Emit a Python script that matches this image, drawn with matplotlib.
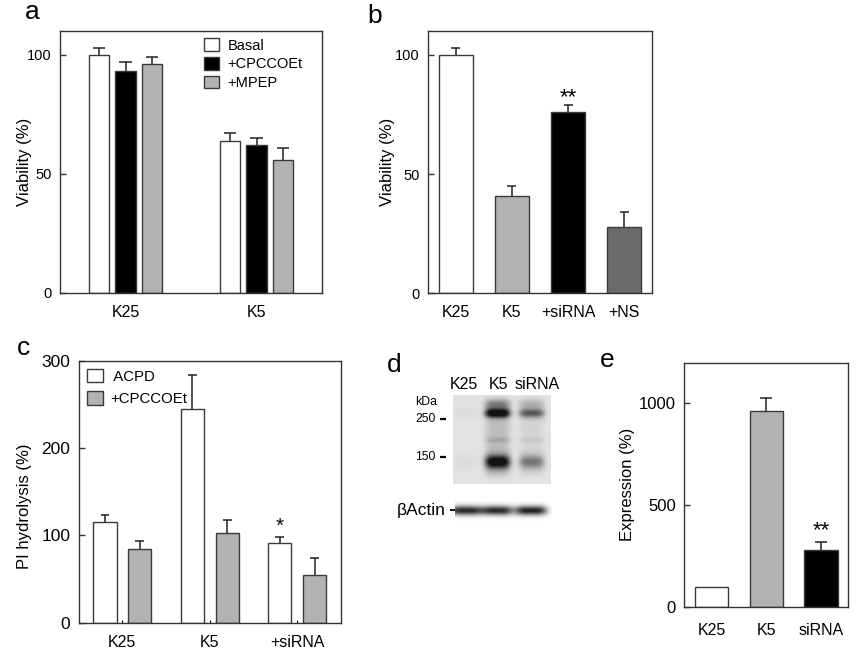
import numpy as np
import matplotlib
matplotlib.use("Agg")
import matplotlib.pyplot as plt

plt.rcParams['font.family'] = ['Liberation Sans', 'DejaVu Sans']

# ---------------- data ----------------
# panel a
a_groups = ["K25", "K5"]
a_series = ["Basal", "+CPCCOEt", "+MPEP"]
a_basal = [100, 64]
a_basal_err = [3, 3]
a_cpccoet = [93, 62]
a_cpccoet_err = [4, 3]
a_mpep = [96, 56]
a_mpep_err = [3, 5]

# panel b
b_cats = ["K25", "K5", "+siRNA", "+NS"]
b_vals = [100, 41, 76, 28]
b_err = [3, 4, 3, 6]
b_sig = ["", "", "**", ""]

# panel c
c_groups = ["K25", "K5", "+siRNA"]
c_series = ["ACPD", "+CPCCOEt"]
c_acpd = [115, 245, 91]
c_acpd_err = [8, 39, 7]
c_cpc = [84, 103, 55]
c_cpc_err = [9, 15, 19]
c_sig = ["", "", "*"]

# panel d (western blot band intensities, relative darkness)
d_lanes = ["K25", "K5", "siRNA"]
d_band250 = [0.03, 0.92, 0.5]
d_band150 = [0.03, 0.85, 0.38]
d_smear = [0.0, 0.15, 0.06]
d_actin = [0.85, 0.84, 0.88]
d_markers = ["250", "150"]

# panel e
e_cats = ["K25", "K5", "siRNA"]
e_vals = [100, 965, 280]
e_err = [0, 63, 40]
e_sig = ["", "", "**"]

# ---------------- figure ----------------
W, H = 861, 668
fig = plt.figure(figsize=(W / 100, H / 100), dpi=100)

WHITE = "white"
LGRAY = "#b2b2b2"
DGRAY = "#6b6b6b"
BLACK = "black"
EDGE = "#3a3a3a"


def axes_px(l, t, r, b):
    return fig.add_axes([l / W, 1 - b / H, (r - l) / W, (b - t) / H])


def style(ax, ytick_fs, xtick_fs=11.5, xpad=8.5, ypad=6):
    for s in ax.spines.values():
        s.set_linewidth(1.0)
        s.set_color("#333333")
    ax.tick_params(axis="y", direction="in", length=4, width=1.0,
                   labelsize=ytick_fs, pad=ypad, color="#333333")
    ax.tick_params(axis="x", length=0, labelsize=xtick_fs, pad=xpad)


def err_up(ax, xs, vs, es, cw):
    for x, v, e in zip(xs, vs, es):
        if e <= 0:
            continue
        ax.plot([x, x], [v, v + e], color="#222222", lw=1.1, zorder=1,
                solid_capstyle="butt")
        ax.plot([x - cw, x + cw], [v + e, v + e], color="#222222", lw=1.1,
                zorder=1, solid_capstyle="butt")


def sig(ax, xs, vs, es, marks, dy, fs):
    for x, v, e, m in zip(xs, vs, es, marks):
        if m:
            ax.annotate(m, (x, v + e), xytext=(0, dy), textcoords="offset points",
                        ha="center", va="center", fontsize=fs)


# ---------- panel a ----------
axa = axes_px(60, 31, 322, 293)
xa = np.arange(len(a_groups))
off = 0.202
wa = 0.156
vals_a = [a_basal, a_cpccoet, a_mpep]
errs_a = [a_basal_err, a_cpccoet_err, a_mpep_err]
cols_a = [WHITE, BLACK, LGRAY]
handles = []
for i, (v, e, c, lab) in enumerate(zip(vals_a, errs_a, cols_a, a_series)):
    xs = xa + (i - 1) * off
    h = axa.bar(xs, v, width=wa, color=c, edgecolor=EDGE, linewidth=1.0,
                label=lab, zorder=2)
    handles.append(h)
    err_up(axa, xs, v, e, 0.048)
axa.set_xlim(-0.5, 1.5)
axa.set_ylim(0, 110)
axa.set_yticks([0, 50, 100])
axa.set_xticks(xa)
axa.set_xticklabels(a_groups)
style(axa, 10.5)
axa.set_ylabel("Viability (%)", fontsize=12)
axa.yaxis.set_label_coords(-0.107, 0.5)
axa.legend(handles=handles, loc="upper left", bbox_to_anchor=(0.55, 0.972),
           frameon=False, fontsize=10.5, handlelength=1.05, handleheight=0.95,
           handletextpad=0.55, labelspacing=0.3, borderpad=0, borderaxespad=0)

# ---------- panel b ----------
axb = axes_px(427.7, 31, 652.3, 293.3)
xb = np.arange(len(b_cats))
axb.bar(xb, b_vals, width=0.6, color=[WHITE, LGRAY, BLACK, DGRAY],
        edgecolor=EDGE, linewidth=1.0, zorder=2)
err_up(axb, xb, b_vals, b_err, 0.08)
sig(axb, xb, b_vals, b_err, b_sig, 5.5, 16)
axb.set_xlim(-0.5, 3.5)
axb.set_ylim(0, 110)
axb.set_yticks([0, 50, 100])
axb.set_xticks(xb)
axb.set_xticklabels(b_cats)
style(axb, 10.5)
axb.set_ylabel("Viability (%)", fontsize=12)
axb.yaxis.set_label_coords(-0.146, 0.5)

# ---------- panel c ----------
axc = axes_px(78.7, 360.7, 340.7, 622.7)
xc = np.arange(len(c_groups))
offc = 0.2
wc = 0.267
hc = []
for i, (v, e, c, lab) in enumerate(zip([c_acpd, c_cpc], [c_acpd_err, c_cpc_err],
                                       [WHITE, LGRAY], c_series)):
    xs = xc + (i - 0.5) * 2 * offc
    h = axc.bar(xs, v, width=wc, color=c, edgecolor=EDGE, linewidth=1.0,
                label=lab, zorder=2)
    hc.append(h)
    err_up(axc, xs, v, e, 0.05)
    if i == 0:
        sig(axc, xs, v, e, c_sig, 8, 15)
axc.set_xlim(-0.5, 2.5)
axc.set_ylim(0, 300)
axc.set_yticks([0, 100, 200, 300])
axc.set_xticks(xc)
axc.set_xticklabels(c_groups)
style(axc, 12.5)
axc.tick_params(axis="x", direction="in", length=2, width=0.8)
axc.set_ylabel("PI hydrolysis (%)", fontsize=12)
axc.yaxis.set_label_coords(-0.179, 0.443)
axc.legend(handles=hc, labels=[" " + c_series[0], c_series[1]],
           loc="upper left", bbox_to_anchor=(0.033, 0.97),
           frameon=False, fontsize=10.8, handlelength=1.05, handleheight=1.05,
           handletextpad=0.45, labelspacing=0.5, borderpad=0, borderaxespad=0)

# ---------- panel e ----------
axe = axes_px(684.3, 362.7, 848.3, 607.3)
xe = np.arange(len(e_cats))
axe.bar(xe, e_vals, width=0.61, color=[WHITE, LGRAY, BLACK],
        edgecolor=EDGE, linewidth=1.0, zorder=2)
err_up(axe, xe, e_vals, e_err, 0.11)
sig(axe, xe, e_vals, e_err, e_sig, 8, 16)
axe.set_xlim(-0.5, 2.5)
axe.set_ylim(0, 1200)
axe.set_yticks([0, 500, 1000])
axe.set_xticks(xe)
axe.set_xticklabels(e_cats)
style(axe, 12, xpad=11)
axe.set_ylabel("Expression (%)", fontsize=12)
axe.yaxis.set_label_coords(-0.30, 0.504)

# ---------- panel d (blot) ----------
axd = axes_px(370, 340, 600, 540)
axd.set_xlim(370, 600)
axd.set_ylim(540, 340)
axd.axis("off")

lane_x = np.array([466.0, 497.0, 531.0])
bx0, bx1, by0, by1 = 452.7, 550.0, 395.0, 484.0
gx = np.linspace(bx0, bx1, 196)
gy = np.linspace(by0, by1, 178)
X, Y = np.meshgrid(gx, gy)
D = np.full(X.shape, 0.11)
for i, cx in enumerate(lane_x):
    px = np.exp(-((X - cx) / 12.5) ** 4)
    g250 = np.exp(-0.5 * ((Y - 413.0) / 3.2) ** 2)
    g250b = np.exp(-0.5 * ((Y - 404.0) / 3.5) ** 2) * 0.3
    g150 = np.exp(-0.5 * ((Y - 462.0) / 4.8) ** 2)
    g140 = np.exp(-0.5 * ((Y - 440.0) / 2.0) ** 2) * 0.12
    smear = 1 / (1 + np.exp(-(Y - 400) / 2)) * 1 / (1 + np.exp((Y - 476) / 2))
    D += px * (d_band250[i] * (g250 + g250b) + d_band150[i] * (g150 + g140)
               + d_smear[i] * smear)
img = np.clip(1 - D, 0.08, 1)
axd.imshow(img, cmap="gray", vmin=0, vmax=1, extent=[bx0, bx1, by1, by0],
           aspect="auto", interpolation="bilinear", zorder=1)

ax0, ax1, ay0, ay1 = 455.0, 552.0, 499.0, 522.0
agx = np.linspace(ax0, ax1, 200)
agy = np.linspace(ay0, ay1, 46)
AX, AY = np.meshgrid(agx, agy)
DA = np.zeros(AX.shape)
for i, cx in enumerate(lane_x):
    px = np.exp(-((AX - cx) / 16.0) ** 4)
    DA += px * d_actin[i] * np.exp(-0.5 * ((AY - 510.5) / 3.4) ** 2)
DA = np.clip(DA, 0, 0.9)
axd.imshow(1 - DA, cmap="gray", vmin=0, vmax=1, extent=[ax0, ax1, ay1, ay0],
           aspect="auto", interpolation="bilinear", zorder=1)

for lab, cx in zip(d_lanes, [464, 498, 536.7]):
    axd.text(cx, 385, lab, ha="center", va="center", fontsize=11.5)
axd.text(415, 402, "kDa", ha="left", va="center", fontsize=8.8)
for lab, yy in zip(d_markers, [419.3, 456.7]):
    axd.text(415, yy, lab, ha="left", va="center", fontsize=8.8)
    axd.plot([440, 446], [yy, yy], color="black", lw=1.6, solid_capstyle="butt")
axd.text(445.5, 510, "\u03b2Actin", ha="right", va="center", fontsize=12.5)
axd.plot([449.5, 454.5], [510, 510], color="black", lw=1.3, solid_capstyle="butt")

# ---------- panel labels ----------
for lab, x, y in [("a", 25, 19), ("b", 367, 23), ("c", 17, 355),
                  ("d", 387, 372), ("e", 600, 367)]:
    fig.text(x / W, 1 - y / H, lab, fontsize=19, ha="left", va="baseline")

fig.savefig("out.png", dpi=100)
